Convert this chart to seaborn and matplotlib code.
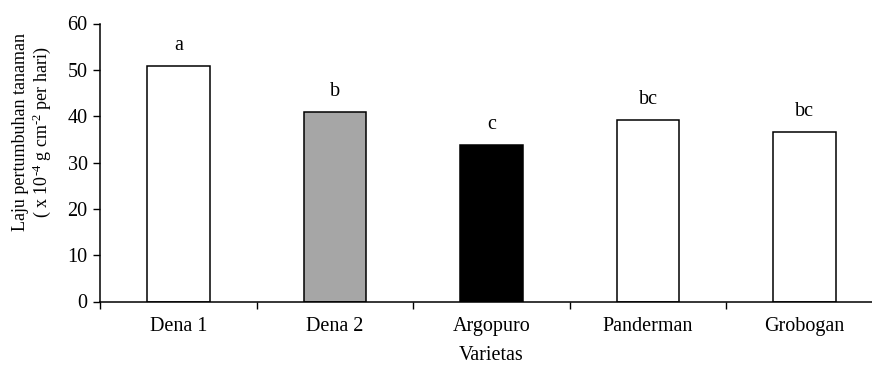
import matplotlib
matplotlib.use("Agg")
import matplotlib.pyplot as plt
import seaborn as sns
import pandas as pd
import numpy as np

varietas = ["Dena 1", "Dena 2", "Argopuro", "Panderman", "Grobogan"]
laju = [50.9, 40.9, 33.7, 39.1, 36.6]
notasi = ["a", "b", "c", "bc", "bc"]
warna = ["#ffffff", "#a6a6a6", "#000000", "#ffffff", "#ffffff"]
y_ticks = [0, 10, 20, 30, 40, 50, 60]

sns.set_theme(style="white")
plt.rcParams["font.family"] = ["Liberation Serif", "DejaVu Serif"]
plt.rcParams["mathtext.fontset"] = "custom"
plt.rcParams["mathtext.rm"] = "Liberation Serif"
plt.rcParams["mathtext.default"] = "regular"

df = pd.DataFrame({"Varietas": varietas, "Laju": laju})

fig = plt.figure(figsize=(8.72, 3.65), dpi=100)
ax = fig.add_axes([100 / 872, (365 - 301.5) / 365, (883 - 100) / 872, (301.5 - 23.5) / 365])

sns.barplot(data=df, x="Varietas", y="Laju", hue="Varietas", palette=warna,
            legend=False, width=0.4, edgecolor="black", linewidth=1.1,
            saturation=1, ax=ax)

for i, (v, n) in enumerate(zip(laju, notasi)):
    ax.annotate(n, xy=(i, v), xytext=(0, 8), textcoords="offset points",
                ha="center", va="bottom", fontsize=14.5, color="black")

ax.set_ylim(0, 60)
ax.set_yticks(y_ticks)
ax.set_xlim(-0.5, 4.5)
ax.set_xticks(range(len(varietas)))
ax.set_xticklabels(varietas)
ax.set_xticks(np.arange(-0.5, 5.0, 1.0), minor=True)
ax.tick_params(axis="x", which="major", length=0, pad=11.5, labelsize=14.5, colors="black")
ax.tick_params(axis="x", which="minor", length=5, width=1, direction="out", bottom=True, colors="black")
ax.tick_params(axis="y", length=5, width=1, direction="out", left=True, labelsize=14.5, pad=4, colors="black")

for s in ["top", "right"]:
    ax.spines[s].set_visible(False)
for s in ["left", "bottom"]:
    ax.spines[s].set_color("black")
    ax.spines[s].set_linewidth(1.1)

ax.set_xlabel("Varietas", fontsize=14.5, labelpad=7, color="black")
ax.set_ylabel("Laju pertumbuhan tanaman\n( x 10$^{\u20104}$ g cm$^{\u20102}$ per hari)",
              fontsize=13, color="black", linespacing=1.1)
ax.yaxis.set_label_coords(-0.06, 0.61)
ax.grid(False)

fig.savefig("out.png", dpi=100)
